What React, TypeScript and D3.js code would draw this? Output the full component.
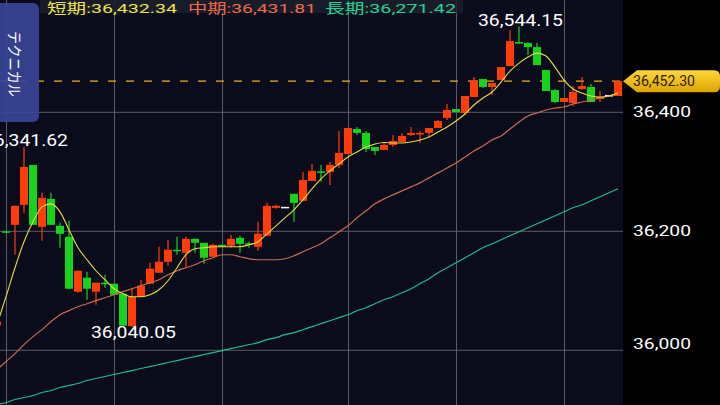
import React from 'react';
import * as d3 from 'd3';

const W = 720;
const H = 405;
const PLOT_RIGHT = 623;

// ---- data ----
const opens = [36042,36200.0,36210.9,36244.5,36311.6,36207.6,36254.5,36209.2,36190.8,36098.5,36122.0,36098.5,36113.6,36111.9,36095.1,36040.5,36090.1,36111.9,36130.4,36148.8,36169.0,36163.9,36187.4,36180.7,36157.2,36177.3,36175.7,36189.1,36179.9,36174.0,36192.5,36239.4,36241.1,36262.9,36251.2,36284.7,36300.7,36299.8,36311.6,36330.0,36372.0,36365.3,36341.8,36336.7,36345.1,36350.2,36361.9,36363.6,36365.3,36373.7,36390.4,36405.5,36398.8,36425.7,36455.9,36442.5,36454.2,36477.7,36518.0,36516.3,36509.6,36471.0,36437.4,36417.3,36415.6,36439.1,36442.5,36422.3,36429.0,36427.4];
const highs = [36050,36200.0,36242.8,36341.62,36311.6,36264.6,36264.6,36214.3,36217.6,36133.7,36132.0,36113.6,36127.0,36111.9,36095.1,36105.2,36118.6,36147.1,36174.0,36185.7,36190.8,36190.8,36187.4,36180.7,36179.0,36177.3,36194.1,36192.5,36182.4,36215.9,36247.8,36244.5,36241.1,36262.9,36299.8,36313.3,36311.6,36316.6,36368.6,36373.7,36375.3,36368.6,36341.8,36350.2,36361.9,36365.3,36375.3,36368.6,36373.7,36387.1,36413.9,36405.5,36427.4,36459.2,36455.9,36449.2,36476.0,36538.1,36544.15,36518.0,36516.3,36471.0,36439.1,36424.0,36444.1,36459.2,36447.5,36435.7,36429.0,36452.3];
const lows = [36041,36198.3,36160.6,36231.0,36210.9,36184.1,36210.9,36172.3,36103.5,36096.8,36085.1,36076.7,36105.2,36093.5,36041.4,36040.05,36090.1,36111.9,36130.4,36142.1,36160.6,36138.8,36163.9,36145.5,36157.2,36174.0,36172.3,36163.9,36172.3,36167.3,36192.5,36237.8,36241.1,36215.9,36251.2,36284.7,36283.1,36278.0,36306.5,36330.0,36361.9,36333.4,36328.4,36336.7,36341.8,36350.2,36360.2,36348.5,36358.6,36373.7,36387.1,36400.5,36395.5,36425.7,36440.8,36429.0,36454.2,36477.7,36515.4,36496.2,36479.4,36435.7,36415.6,36417.3,36410.6,36437.4,36417.3,36417.3,36429.0,36427.4];
const closes = [36048,36198.3,36242.8,36308.2,36210.9,36256.2,36210.9,36195.8,36103.5,36133.7,36103.5,36113.6,36111.9,36093.5,36041.4,36090.1,36108.6,36137.1,36148.8,36169.0,36167.3,36187.4,36180.7,36155.5,36177.3,36174.0,36187.4,36179.0,36178.2,36195.8,36242.8,36242.8,36241.1,36247.8,36286.4,36301.5,36299.0,36311.6,36331.7,36373.7,36365.3,36338.4,36335.1,36345.1,36351.9,36360.2,36365.3,36365.3,36373.7,36385.4,36403.9,36400.5,36427.4,36454.2,36442.5,36449.2,36476.0,36519.6,36515.4,36509.6,36479.4,36435.7,36417.3,36424.0,36434.1,36444.1,36417.3,36425.7,36429.0,36452.3];

const maShort = [36043.1,36090.1,36138.8,36182.4,36215.9,36241.1,36246.1,36232.7,36202.5,36172.3,36152.2,36133.7,36118.6,36103.5,36095.1,36090.1,36090.1,36093.5,36101.8,36116.9,36138.8,36160.6,36170.6,36172.3,36174.0,36174.0,36174.0,36174.0,36177.3,36182.4,36195.8,36209.2,36222.7,36236.1,36252.9,36271.3,36288.1,36301.5,36313.3,36325.0,36333.4,36341.8,36346.8,36349.3,36348.5,36348.5,36350.2,36353.5,36358.6,36367.0,36375.3,36385.4,36397.2,36412.3,36424.0,36434.1,36450.8,36469.3,36482.7,36492.8,36499.5,36494.5,36476.0,36454.2,36439.1,36432.4,36427.4,36425.7,36427.4,36432.34];
const maMid = [35967.6,35981.0,35994.5,36009.6,36023.0,36034.7,36048.1,36059.9,36066.6,36073.3,36078.3,36083.4,36088.4,36093.5,36098.5,36103.5,36108.6,36113.6,36118.6,36127.0,36133.7,36138.8,36143.8,36150.5,36155.5,36160.6,36160.6,36157.2,36153.9,36152.2,36152.2,36152.2,36153.9,36158.9,36165.6,36172.3,36179.0,36189.1,36199.2,36209.2,36222.7,36234.4,36246.1,36254.5,36261.2,36268.0,36274.7,36281.4,36289.8,36298.2,36306.5,36314.9,36325.0,36335.1,36343.5,36353.5,36360.2,36372.0,36383.7,36393.8,36398.8,36403.9,36407.2,36408.9,36413.9,36417.3,36420.6,36424.0,36427.4,36431.81];
const maLong = [35908.9,35912.2,35917.3,35920.6,35924.0,35929.0,35932.4,35937.4,35940.8,35944.1,35949.2,35952.5,35955.9,35959.2,35962.6,35965.9,35969.3,35972.6,35976.0,35979.4,35982.7,35986.1,35989.4,35992.8,35996.1,35999.5,36002.8,36006.2,36009.6,36012.9,36017.9,36021.3,36026.3,36029.7,36034.7,36039.8,36044.8,36049.8,36054.9,36059.9,36066.6,36071.6,36078.3,36085.1,36090.1,36096.8,36103.5,36111.9,36120.3,36130.4,36138.8,36147.1,36155.5,36163.9,36172.3,36179.0,36185.7,36192.5,36199.2,36205.9,36212.6,36219.3,36226.0,36232.7,36239.4,36244.5,36251.2,36257.9,36264.6,36271.42];

const yTicks = [36000, 36200, 36400];
const gridIndices = [1, 13, 25, 39, 51, 63];
const legendLabels = ['短期', '中期', '長期'];
const legendValues = [36432.34, 36431.81, 36271.42];
const tabLabel = 'テクニカル';

// ---- styles ----
const BG = '#0a0c1b';
const GRID = '#5c5c64';
const UP = '#ff3c0a';
const DOWN = '#16d41c';
const FLAT = '#ffffff';
const MA_COLORS = ['#e2dc46', '#cc6a4e', '#1fbf8a'];
const LEGEND_COLORS = ['#ece443', '#ee6a44', '#22d494'];
const FONT = "Roboto, 'Noto Sans CJK JP', sans-serif";

const fmt = d3.format(',.2f');
const fmt0 = d3.format(',');

export default function App() {
  const n = closes.length;
  const x = d3.scaleLinear().domain([0, n - 1]).range([-3, 618]);
  const y = d3.scaleLinear().domain([36000, 36400]).range([350.3, 112.3]);
  const bodyW = 8;

  const line = d3
    .line<number>()
    .x((_, i) => x(i))
    .y((v) => y(v))
    .curve(d3.curveMonotoneX);

  const last = closes[n - 1];
  const yLast = y(last);

  const hiIdx = d3.maxIndex(highs);
  const loIdx = d3.minIndex(lows);
  const leftHiIdx = d3.maxIndex(highs.slice(0, 20));

  const legendX = [47, 188, 325];
  const legendLen = [130, 128, 131];

  return (
    <svg
      width={W}
      height={H}
      style={{ position: 'absolute', left: 0, top: 0, display: 'block' }}
      fontFamily={FONT}
    >
      <defs>
        <clipPath id="plot">
          <rect x={0} y={0} width={PLOT_RIGHT} height={H} />
        </clipPath>
        <linearGradient id="tag" x1="0" y1="0" x2="0" y2="1">
          <stop offset="0%" stopColor="#ffd83a" />
          <stop offset="100%" stopColor="#dba400" />
        </linearGradient>
      </defs>
      <rect x={0} y={0} width={W} height={H} fill="#000" />
      <rect x={0} y={0} width={PLOT_RIGHT} height={H} fill={BG} />

      <g clipPath="url(#plot)">
        {yTicks.map((t) => (
          <line key={t} x1={0} x2={PLOT_RIGHT} y1={y(t)} y2={y(t)} stroke={GRID} strokeWidth={1} />
        ))}
        {gridIndices.map((gi) => (
          <line key={gi} x1={x(gi) + 0.5} x2={x(gi) + 0.5} y1={0} y2={H} stroke={GRID} strokeWidth={1} />
        ))}

        <line
          x1={0}
          x2={PLOT_RIGHT}
          y1={yLast}
          y2={yLast}
          stroke="#f0b000"
          strokeWidth={1.3}
          strokeDasharray="8,10"
        />

        {closes.map((c, i) => {
          const o = opens[i];
          const col = c > o ? UP : c < o ? DOWN : FLAT;
          const top = y(Math.max(o, c));
          const bot = y(Math.min(o, c));
          const cx = x(i);
          return (
            <g key={i}>
              <line x1={cx} x2={cx} y1={y(highs[i])} y2={y(lows[i])} stroke={col} strokeWidth={1.2} />
              <rect x={cx - bodyW / 2} y={top} width={bodyW} height={Math.max(1.5, bot - top)} fill={col} />
            </g>
          );
        })}

        <path d={line(maLong) || ''} fill="none" stroke={MA_COLORS[2]} strokeWidth={1.1} />
        <path d={line(maMid) || ''} fill="none" stroke={MA_COLORS[1]} strokeWidth={1.2} />
        <path d={line(maShort) || ''} fill="none" stroke={MA_COLORS[0]} strokeWidth={1.1} />

        <text
          x={x(hiIdx) + 1.5}
          y={y(highs[hiIdx]) - 1}
          fill="#fff"
          fontSize={17}
          textAnchor="middle"
          textLength={85}
          lengthAdjust="spacingAndGlyphs"
        >
          {fmt(highs[hiIdx])}
        </text>
        <text
          x={x(leftHiIdx) + 1.5}
          y={y(highs[leftHiIdx]) - 1}
          fill="#fff"
          fontSize={17}
          textAnchor="middle"
          textLength={85}
          lengthAdjust="spacingAndGlyphs"
        >
          {fmt(highs[leftHiIdx])}
        </text>
        <text
          x={x(loIdx) + 1.5}
          y={y(lows[loIdx]) + 12}
          fill="#fff"
          fontSize={17}
          textAnchor="middle"
          textLength={85}
          lengthAdjust="spacingAndGlyphs"
        >
          {fmt(lows[loIdx])}
        </text>
      </g>

      <rect x={40} y={0} width={423} height={13} fill="#1b1e2c" opacity={0.85} />
      {legendLabels.map((lab, i) => (
        <text
          key={lab}
          x={legendX[i]}
          y={12.6}
          fill={LEGEND_COLORS[i]}
          fontSize={13.5}
          textLength={legendLen[i]}
          lengthAdjust="spacingAndGlyphs"
        >
          {lab}:{fmt(legendValues[i])}
        </text>
      ))}

      <rect x={-8} y={3} width={47} height={119} rx={6} fill="#3a4597" opacity={0.92} />
      <text
        transform={`translate(9, ${31}) rotate(90)`}
        fill="#fff"
        fontSize={15}
        textLength={66}
        lengthAdjust="spacingAndGlyphs"
      >
        {tabLabel}
      </text>

      {yTicks.map((t) => (
        <text
          key={t}
          x={633}
          y={Math.min(y(t), 344) + 5}
          fill="#fff"
          fontSize={14.5}
          textLength={58}
          lengthAdjust="spacingAndGlyphs"
        >
          {fmt0(t)}
        </text>
      ))}

      <path
        d={`M${PLOT_RIGHT},${yLast} L${PLOT_RIGHT + 14},${yLast - 11} L${W - 6},${yLast - 11} Q${W},${yLast - 11} ${W},${yLast - 5} L${W},${yLast + 5} Q${W},${yLast + 11} ${W - 6},${yLast + 11} L${PLOT_RIGHT + 14},${yLast + 11} Z`}
        fill="url(#tag)"
      />
      <text
        x={633}
        y={yLast + 5}
        fill="#2a1c00"
        fontSize={14}
        textLength={62}
        lengthAdjust="spacingAndGlyphs"
      >
        {fmt(last)}
      </text>
    </svg>
  );
}
